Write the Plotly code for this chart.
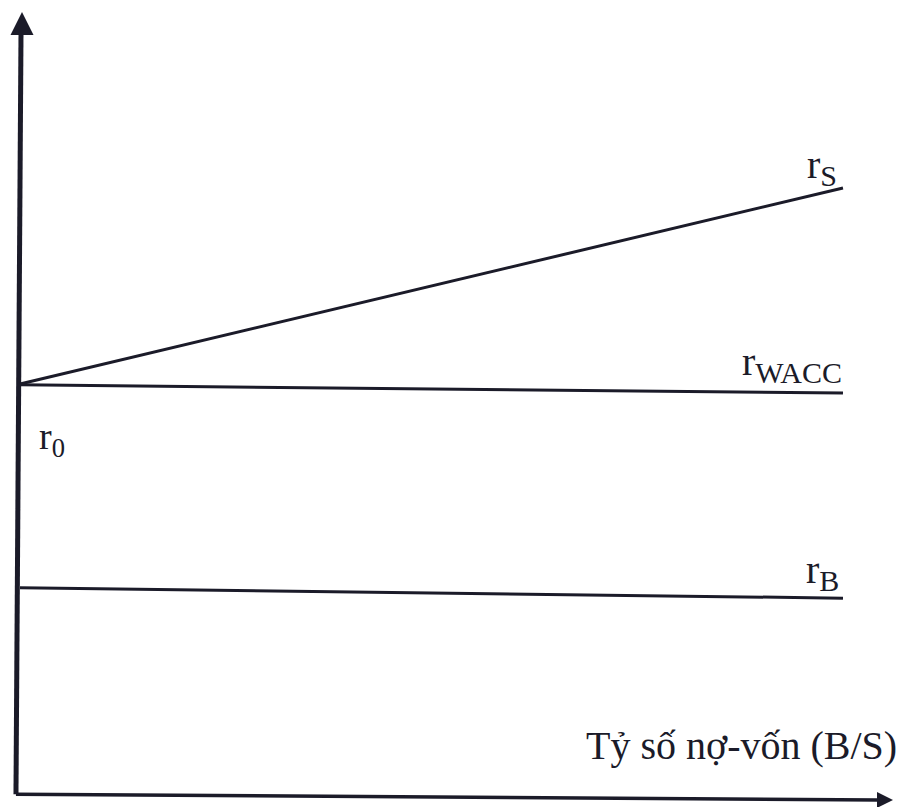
import plotly.graph_objects as go

# Debt-to-equity ratio B/S (arbitrary units: 0 = unlevered firm)
leverage = [0.0, 1.0]

# Required rates of return at both ends of the leverage range
r_equity = [0.1000, 0.1477]   # r_S, cost of equity
r_wacc = [0.0998, 0.0978]     # r_WACC, weighted average cost of capital
r_debt = [0.0504, 0.0479]     # r_B, cost of debt
r_zero = 0.1000               # r_0, cost of capital of the unlevered firm

line_names = ["S", "WACC", "B"]
line_values = [r_equity, r_wacc, r_debt]

INK = "#1b1b29"
FONT = "Liberation Serif, Times New Roman, serif"
BASE_SIZE = 40
SUB_SIZE = 30


def label(sub):
    return f"r<sub><span style='font-size:{SUB_SIZE}px'>{sub}</span></sub>"


# vertical nudge (px) of each line label above its line end
label_yshift = {"S": -6, "WACC": 2, "B": -1}
label_xshift = {"S": -4, "WACC": 1, "B": -2}

fig = go.Figure()

# Hand-drawn style axes with arrowheads
y_axis_x = [-0.0049, 0.0012]
y_axis_y = [0.0002, 0.1849]
x_axis_x = [-0.0049, 1.0425]
x_axis_y = [0.0002, -0.0012]

fig.add_trace(go.Scatter(x=y_axis_x, y=y_axis_y, mode="lines",
                         line=dict(color=INK, width=5), hoverinfo="skip"))
fig.add_trace(go.Scatter(x=x_axis_x, y=x_axis_y, mode="lines",
                         line=dict(color=INK, width=3.5), hoverinfo="skip"))
fig.add_trace(go.Scatter(x=[0.0024], y=[0.1905], mode="markers",
                         marker=dict(symbol="arrow-up", size=23, color=INK),
                         cliponaxis=False, hoverinfo="skip"))
fig.add_trace(go.Scatter(x=[1.0608], y=[-0.0012], mode="markers",
                         marker=dict(symbol="arrow-right", size=16, color=INK),
                         cliponaxis=False, hoverinfo="skip"))

# Cost-of-capital lines and their labels
for name, values in zip(line_names, line_values):
    fig.add_trace(go.Scatter(x=leverage, y=values, mode="lines",
                             line=dict(color=INK, width=3), hoverinfo="skip"))
    fig.add_annotation(x=leverage[-1], y=values[-1], text=label(name),
                       xref="x", yref="y", xanchor="right", yanchor="bottom",
                       xshift=label_xshift[name], yshift=label_yshift[name],
                       showarrow=False,
                       font=dict(family=FONT, size=BASE_SIZE, color=INK))

fig.add_annotation(x=leverage[0], y=r_zero, text="r<sub>0</sub>",
                   xref="x", yref="y", xanchor="left", yanchor="top",
                   xshift=17, yshift=-29, showarrow=False,
                   font=dict(family=FONT, size=38, color=INK))

# Horizontal axis title
fig.add_annotation(x=1.0, y=0.0, text="Tỷ số nợ-vốn (B/S)",
                   xref="paper", yref="y", xanchor="right", yanchor="bottom",
                   xshift=-2, yshift=25, showarrow=False,
                   font=dict(family=FONT, size=40, color=INK))

fig.update_layout(
    width=901, height=807,
    margin=dict(l=0, r=0, t=0, b=0),
    paper_bgcolor="white", plot_bgcolor="white",
    showlegend=False,
    xaxis=dict(range=[-0.0243, 1.0705], visible=False, fixedrange=True),
    yaxis=dict(range=[-0.00292, 0.19343], visible=False, fixedrange=True),
)

fig.write_html("out.html")
